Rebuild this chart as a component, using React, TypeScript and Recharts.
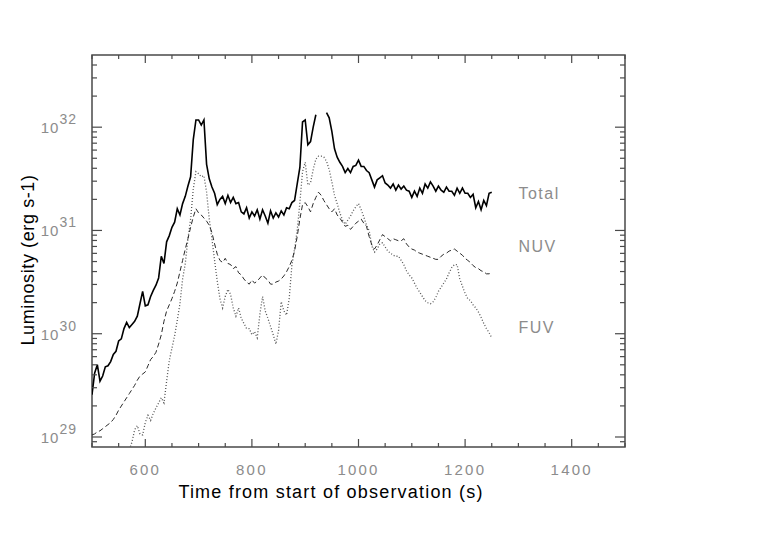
import { LineChart, Line, XAxis, YAxis, ReferenceArea, ReferenceDot } from "recharts";

// sampling grid of the light curves (s)
const T_START = 500;
const T_STEP = 5;

// log10 luminosity, every 5 s from 500 s to 1250 s
const totalLog = [
  29.41, 29.62, 29.7, 29.54, 29.59, 29.68, 29.69, 29.73, 29.8, 29.83,
  29.93, 29.95, 30.05, 30.11, 30.06, 30.09, 30.12, 30.17, 30.29, 30.41,
  30.27, 30.28, 30.36, 30.42, 30.47, 30.54, 30.75, 30.68, 30.89, 30.95,
  31.03, 31.08, 31.21, 31.15, 31.26, 31.33, 31.43, 31.52, 31.88, 32.07,
  32.07, 32.02, 32.07, 31.64, 31.5, 31.42, 31.36, 31.25, 31.3, 31.33,
  31.26, 31.34, 31.27, 31.32, 31.26, 31.27, 31.18, 31.16, 31.22, 31.12,
  31.18, 31.14, 31.2, 31.11, 31.2, 31.14, 31.07, 31.19, 31.12, 31.17,
  31.13, 31.19, 31.15, 31.22, 31.21, 31.27, 31.29, 31.45, 31.61, 32.05,
  32.07, 31.83, 31.86, 32.0, 32.12, null, null, null, 32.14, 32.09,
  31.96, 31.79, 31.71, 31.66, 31.62, 31.56, 31.6, 31.56, 31.62, 31.63,
  31.68, 31.62, 31.62, 31.58, 31.56, 31.49, 31.42, 31.49, 31.51, 31.53,
  31.46, 31.44, 31.41, 31.45, 31.39, 31.44, 31.4, 31.43, 31.39, 31.38,
  31.32, 31.38, 31.33, 31.41, 31.36, 31.45, 31.41, 31.47, 31.43, 31.38,
  31.43, 31.39, 31.37, 31.42, 31.38, 31.38, 31.34, 31.41, 31.36, 31.41,
  31.36, 31.36, 31.32, 31.35, 31.22, 31.28, 31.2, 31.29, 31.24, 31.36,
  31.37,
];

const nuvLog = [
  29.02, 29.03, 29.05, 29.06, 29.08, 29.1, 29.12, 29.14, 29.17, 29.21,
  29.26, 29.3, 29.34, 29.38, 29.42, 29.46, 29.5, 29.55, 29.59, 29.61,
  29.63, 29.69, 29.75, 29.78, 29.82, 29.9, 29.99, 30.12, 30.22, 30.28,
  30.34, 30.41, 30.49, 30.6, 30.71, 30.82, 30.92, 31.03, 31.13, 31.21,
  31.17, 31.15, 31.12, 31.09, 31.05, 30.98, 30.87, 30.77, 30.71, 30.69,
  30.73, 30.68, 30.67, 30.63, 30.65, 30.59, 30.57, 30.53, 30.5, 30.48,
  30.52, 30.49, 30.51, 30.54, 30.57, 30.54, 30.52, 30.48, 30.48, 30.5,
  30.51, 30.53, 30.56, 30.6, 30.65, 30.71, 30.8, 30.94, 31.11, 31.25,
  31.27, 31.23, 31.18, 31.26, 31.32, 31.37, 31.34, 31.29, 31.25, 31.21,
  31.18, 31.21, 31.15, 31.12, 31.08, 31.04, 31.05, 31.01, 31.04, 31.07,
  31.09, 31.11, 31.07, 31.04, 30.94, 30.86, 30.82, 30.86, 30.91, 30.96,
  30.94, 30.92, 30.9, 30.92, 30.91, 30.9, 30.9, 30.92, 30.87, 30.84,
  30.82, 30.81, 30.79, 30.78, 30.77, 30.76, 30.75, 30.74, 30.73, 30.72,
  30.72, 30.75, 30.77, 30.78, 30.8, 30.81, 30.82, 30.8, 30.78, 30.76,
  30.73, 30.71, 30.69, 30.66, 30.64, 30.63, 30.61, 30.6, 30.58, 30.58,
  30.59,
];

const fuvLog = [
  null, null, null, null, null, null, null, null, null, null,
  null, null, null, null, 28.88, 28.95, 29.07, 29.11, 29.03, 29.02,
  29.14, 29.21, 29.16, 29.23, 29.28, 29.33, 29.38, 29.33, 29.54, 29.74,
  29.86, 29.98, 30.13, 30.29, 30.53, 30.68, 30.92, 31.11, 31.4, 31.57,
  31.55, 31.52, 31.53, 31.37, 31.11, 30.92, 30.71, 30.51, 30.34, 30.25,
  30.36, 30.43, 30.38, 30.25, 30.17, 30.25, 30.15, 30.1, 30.05, 30.05,
  29.99, 30.02, 29.96, 30.19, 30.36, 30.22, 30.15, 30.07, 29.99, 29.9,
  30.03, 30.31, 30.22, 30.18, 30.34, 30.66, 30.82, 31.0, 31.27, 31.57,
  31.66, 31.44, 31.46, 31.59, 31.69, 31.72, 31.72, 31.71, 31.67, 31.59,
  31.47, 31.34, 31.26, 31.17, 31.1, 31.06, 31.1, 31.14, 31.19, 31.23,
  31.26, 31.2, 31.13, 31.05, 31.0, 30.85, 30.79, 30.82, 30.87, 30.88,
  30.84, 30.8, 30.78, 30.76, 30.75, 30.75, 30.71, 30.67, 30.61, 30.57,
  30.54, 30.49, 30.44, 30.4, 30.36, 30.32, 30.3, 30.29, 30.31, 30.35,
  30.41, 30.45, 30.49, 30.53, 30.59, 30.64, 30.67, 30.67, 30.53, 30.46,
  30.39, 30.34, 30.32, 30.28, 30.25, 30.21, 30.16, 30.1, 30.05, 30.01,
  29.96,
];

const xTicks = [
  500, 550, 600, 650, 700, 750, 800, 850, 900, 950, 1000,
  1050, 1100, 1150, 1200, 1250, 1300, 1350, 1400, 1450, 1500,
];
const xLabels = [600, 800, 1000, 1200, 1400];
const decades = [29, 30, 31, 32];
const curveNames = ["Total", "NUV", "FUV"];
const curveLabelLog = [31.35, 30.84, 30.06];
const curveLabelTime = 1300;

const Y_MIN = 8e28;
const Y_MAX = 5e32;

const PLOT = { left: 92, right: 625, top: 55, bottom: 447 };
const FRAME = "#4a4a4a";
const GREY_TEXT = "#8c8c8c";
const FONT = "'Liberation Sans', Arial, sans-serif";

const data = totalLog.map((v, i) => ({
  t: T_START + i * T_STEP,
  total: v == null ? null : 10 ** v,
  nuv: nuvLog[i] == null ? null : 10 ** (nuvLog[i] as number),
  fuv: fuvLog[i] == null ? null : 10 ** (fuvLog[i] as number),
}));

const majorY = decades.map((d) => 10 ** d);
const yTicks = [9e28, ...decades.flatMap((d) => [1, 2, 3, 4, 5, 6, 7, 8, 9].map((k) => k * 10 ** d))].filter(
  (v) => v <= Y_MAX
);
const isMajorY = (v: number) => majorY.some((m) => Math.abs(v / m - 1) < 1e-9);

function XTick({ x, payload }: any) {
  const v = payload.value as number;
  const major = xLabels.includes(v);
  const len = major ? 8 : 4;
  return (
    <g>
      <line x1={x} x2={x} y1={PLOT.bottom} y2={PLOT.bottom - len} stroke={FRAME} strokeWidth={1.2} />
      <line x1={x} x2={x} y1={PLOT.top} y2={PLOT.top + len} stroke={FRAME} strokeWidth={1.2} />
      {major && (
        <text
          x={x}
          y={PLOT.bottom + 28}
          textAnchor="middle"
          fill={GREY_TEXT}
          fontSize={15}
          letterSpacing={2.2}
          fontFamily={FONT}
        >
          {v}
        </text>
      )}
    </g>
  );
}

function YTick({ y, payload }: any) {
  const v = payload.value as number;
  const major = isMajorY(v);
  const len = major ? 10 : 5;
  const exp = Math.round(Math.log10(v));
  return (
    <g>
      <line x1={PLOT.left} x2={PLOT.left + len} y1={y} y2={y} stroke={FRAME} strokeWidth={1.2} />
      <line x1={PLOT.right} x2={PLOT.right - len} y1={y} y2={y} stroke={FRAME} strokeWidth={1.2} />
      {major && (
        <text x={77} y={y + 6} textAnchor="end" fill={GREY_TEXT} fontSize={15} letterSpacing={1} fontFamily={FONT}>
          <tspan>10</tspan>
          <tspan dy={-9} fontSize={14}>
            {exp}
          </tspan>
        </text>
      )}
    </g>
  );
}

const xTitle = () => (
  <text x={331} y={498} textAnchor="middle" fill="#000" fontSize={18} letterSpacing={1.2} fontFamily={FONT}>
    Time from start of observation (s)
  </text>
);

const yTitle = () => (
  <text
    x={34}
    y={260}
    transform="rotate(-90 34 260)"
    textAnchor="middle"
    fill="#000"
    fontSize={18}
    letterSpacing={0.6}
    fontFamily={FONT}
  >
    Luminosity (erg s-1)
  </text>
);

export default function App() {
  return (
    <div style={{ width: 760, height: 560, background: "#fff" }}>
      <style>{"body{margin:0;background:#fff}"}</style>
      <LineChart width={760} height={560} data={data} margin={{ top: 55, right: 135, bottom: 0, left: 0 }}>
        <XAxis
          dataKey="t"
          type="number"
          domain={[500, 1500]}
          ticks={xTicks}
          interval={0}
          allowDataOverflow
          axisLine={false}
          tickLine={false}
          tick={XTick}
          height={113}
          label={xTitle}
        />
        <YAxis
          type="number"
          scale="log"
          domain={[Y_MIN, Y_MAX]}
          ticks={yTicks}
          interval={0}
          allowDataOverflow
          axisLine={false}
          tickLine={false}
          tick={YTick}
          width={92}
          label={yTitle}
        />
        <Line
          dataKey="fuv"
          stroke="#555"
          strokeWidth={1.3}
          strokeDasharray="1 2"
          dot={false}
          isAnimationActive={false}
          type="linear"
        />
        <Line
          dataKey="nuv"
          stroke="#2a2a2a"
          strokeWidth={1}
          strokeDasharray="5 3"
          dot={false}
          isAnimationActive={false}
          type="linear"
        />
        <Line dataKey="total" stroke="#000" strokeWidth={1.6} dot={false} isAnimationActive={false} type="linear" />
        {curveNames.map((name, i) => (
          <ReferenceDot
            key={name}
            x={curveLabelTime}
            y={10 ** curveLabelLog[i]}
            r={0}
            fill="none"
            stroke="none"
            label={(p: any) => (
              <text
                x={(p.viewBox?.x ?? 0) + (p.viewBox?.width ?? 0) / 2}
                y={(p.viewBox?.y ?? 0) + (p.viewBox?.height ?? 0) / 2 + 5}
                textAnchor="start"
                fill={GREY_TEXT}
                fontSize={16}
                letterSpacing={1.5}
                fontFamily={FONT}
              >
                {name}
              </text>
            )}
          />
        ))}
        <ReferenceArea
          x1={500}
          x2={1500}
          y1={Y_MIN}
          y2={Y_MAX}
          fill="none"
          stroke={FRAME}
          strokeWidth={1.5}
          ifOverflow="visible"
        />
      </LineChart>
    </div>
  );
}
